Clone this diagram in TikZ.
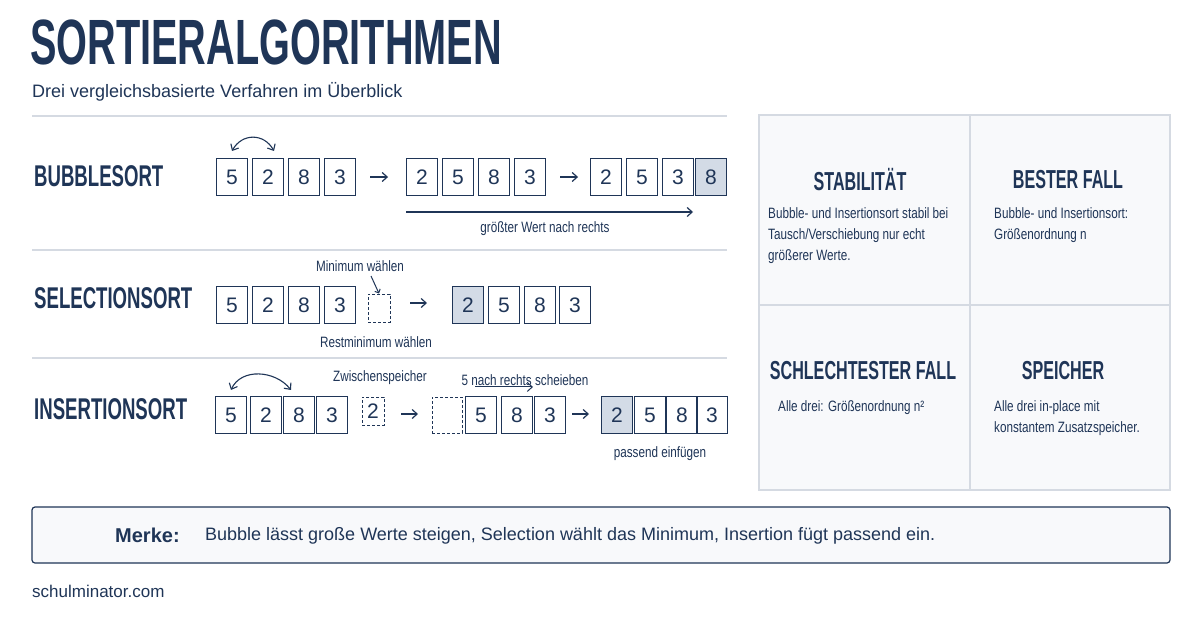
\documentclass[tikz,border=0pt]{standalone}
\usepackage{fontspec}
\setmainfont{Liberation Sans}
\usetikzlibrary{arrows.meta,calc}
\definecolor{navy}{HTML}{1F3557}
\definecolor{lgray}{HTML}{D5DAE2}
\definecolor{shade}{HTML}{D3DBE6}
\definecolor{panel}{HTML}{F8F9FB}
\newcommand{\cond}[1]{\scalebox{0.78}[1]{#1}}
\newcommand{\hd}[2]{\scalebox{0.62}[1]{\fontsize{#1}{#1}\selectfont\bfseries #2}}
\tikzset{
 cell/.style={draw=navy,line width=1.1pt,minimum width=31pt,minimum height=37pt,inner sep=0pt,text=navy,font=\fontsize{21}{21}\selectfont},
 hl/.style={cell,fill=shade},
 dbox/.style={draw=navy,line width=1pt,dash pattern=on 3pt off 2pt,minimum width=22pt,minimum height=28pt,inner sep=0pt,text=navy,font=\fontsize{21}{21}\selectfont},
 arr/.style={-{Straight Barb[length=5pt,width=9pt]},line width=1.2pt,navy},
 lbl/.style={text=navy,font=\fontsize{15}{15}\selectfont,inner sep=0pt},
 sep/.style={lgray,line width=1.2pt},
 rowt/.style={anchor=west,text=navy,inner sep=0pt},
 cellh/.style={text=navy,inner sep=0pt},
 body/.style={text=navy,anchor=north west,align=left,inner sep=0pt,font=\fontsize{15}{21}\selectfont}
}
\begin{document}
\begin{tikzpicture}[x=1pt,y=-1pt]
\path[use as bounding box,fill=white] (0,0) rectangle (1200,630);
\node[rowt] (title) at (30,42) {\hd{64}{SORTIERALGORITHMEN}};
\node[rowt,font=\fontsize{18}{18}\selectfont] (sub) at (32,92) {Drei vergleichsbasierte Verfahren im Überblick};
\draw[sep] (32,116) -- (727,116);
\draw[sep] (32,250) -- (727,250);
\draw[sep] (32,358) -- (727,358);
% Bubblesort
\node[rowt] (bt) at (34,176) {\hd{30}{BUBBLESORT}};
\foreach \v/\x [count=\i] in {5/232,2/268,8/304,3/340}{\node[cell] (ba\i) at (\x,177) {\v};}
\foreach \v/\x [count=\i] in {2/422,5/458,8/494,3/530}{\node[cell] (bb\i) at (\x,177) {\v};}
\foreach \v/\x [count=\i] in {2/606,5/642,3/678}{\node[cell] (bc\i) at (\x,177) {\v};}
\node[hl] (bc4) at (711,177) {8};
\draw[arr] ($(ba4.east)+(14,0)$) -- ++(18,0);
\draw[arr] ($(bb4.east)+(14,0)$) -- ++(18,0);
\draw[{Straight Barb[length=5pt,width=9pt]}-{Straight Barb[length=5pt,width=9pt]},line width=1.1pt,navy] ($(ba1.north)+(0,-7)$) .. controls +(10,-18) and +(-10,-18) .. ($(ba2.north)+(6,-7)$);
\coordinate (ga) at (406,212); \coordinate (gb) at (693,212);
\draw[arr] (ga) -- (gb);
\node[lbl] (gl) at (545,229) {\cond{größter Wert nach rechts}};
% Selectionsort
\node[rowt] (st) at (34,298) {\hd{30}{SELECTIONSORT}};
\foreach \v/\x [count=\i] in {5/232,2/268,8/304,3/340}{\node[cell] (sa\i) at (\x,305) {\v};}
\node[dbox] (sd) at (379,308) {};
\node[lbl] (sm) at (360,266) {\cond{Minimum wählen}};
\draw[-{Straight Barb[length=3pt,width=6pt]},line width=1pt,navy] (371,276) -- (sd.north);
\draw[arr] (410,303) -- (427,303);
\node[hl] (sb1) at (468,305) {2};
\foreach \v/\x [count=\i from 2] in {5/504,8/540,3/575}{\node[cell] (sb\i) at (\x,305) {\v};}
\node[lbl] (sr) at (376,342) {\cond{Restminimum wählen}};
% Insertionsort
\node[rowt] (it) at (34,409) {\hd{30}{INSERTIONSORT}};
\foreach \v/\x [count=\i] in {5/231,2/266,8/299,3/332}{\node[cell] (ia\i) at (\x,415) {\v};}
\node[dbox] (id) at (373,411) {2};
\node[lbl] (iz) at (380,378) {\cond{Zwischenspeicher}};
\draw[arr] (401,414) -- (418,414);
\node[dbox,minimum width=30pt,minimum height=36pt] (ie) at (447,415) {};
\foreach \v/\x [count=\i] in {5/481,8/517,3/550}{\node[cell] (ib\i) at (\x,415) {\v};}
\node[lbl] (is) at (525,380) {\cond{5 nach rechts scheieben}};
\draw[arr,line width=1pt] ($(ib1.north)+(-6,-9)$) -- ++(58,0);
\draw[arr] (572,414) -- (589,414);
\node[hl] (ic1) at (617,415) {2};
\foreach \v/\x [count=\i from 2] in {5/650,8/682,3/712}{\node[cell] (ic\i) at (\x,415) {\v};}
\node[lbl] (ip) at (660,454) {\cond{passend einfügen}};
\draw[{Straight Barb[length=5pt,width=9pt]}-{Straight Barb[length=5pt,width=9pt]},line width=1.1pt,navy] ($(ia1.north)+(0,-6)$) .. controls +(10,-22) and +(-16,-20) .. ($(ia3.north)+(-8,-6)$);
% panel
\draw[lgray,line width=1.2pt,fill=panel] (759,115) rectangle (1170,490);
\draw[lgray,line width=1.2pt] (970,115) -- (970,490);
\draw[lgray,line width=1.2pt] (759,305) -- (1170,305);
\node[cellh] (h1) at (860,180) {\hd{26}{STABILITÄT}};
\node[body] (t1) at (768,207) {\cond{Bubble- und Insertionsort stabil bei}\\\cond{Tausch/Verschiebung nur echt}\\\cond{größerer Werte.}};
\node[cellh] (h2) at (1068,180) {\hd{26}{BESTER FALL}};
\node[body] (t2) at (994,207) {\cond{Bubble- und Insertionsort:}\\\cond{Größenordnung n}};
\node[cellh] (h3) at (863,371) {\hd{26}{SCHLECHTESTER FALL}};
\node[body] (t3) at (778,400) {\cond{Alle drei: Größenordnung n²}};
\node[cellh] (h4) at (1063,371) {\hd{26}{SPEICHER}};
\node[body] (t4) at (994,400) {\cond{Alle drei in-place mit}\\\cond{konstantem Zusatzspeicher.}};
% Merke
\draw[navy,line width=1.2pt,fill=panel,rounded corners=3pt] (32,507) rectangle (1170,563);
\node[rowt,font=\fontsize{20}{20}\selectfont\bfseries] (mk) at (115,535) {Merke:};
\node[rowt,font=\fontsize{18}{18}\selectfont] (mt) at (205,536) {Bubble lässt große Werte steigen, Selection wählt das Minimum, Insertion fügt passend ein.};
\node[rowt,font=\fontsize{17}{17}\selectfont] (web) at (32,591) {schulminator.com};
\end{tikzpicture}
\end{document}
